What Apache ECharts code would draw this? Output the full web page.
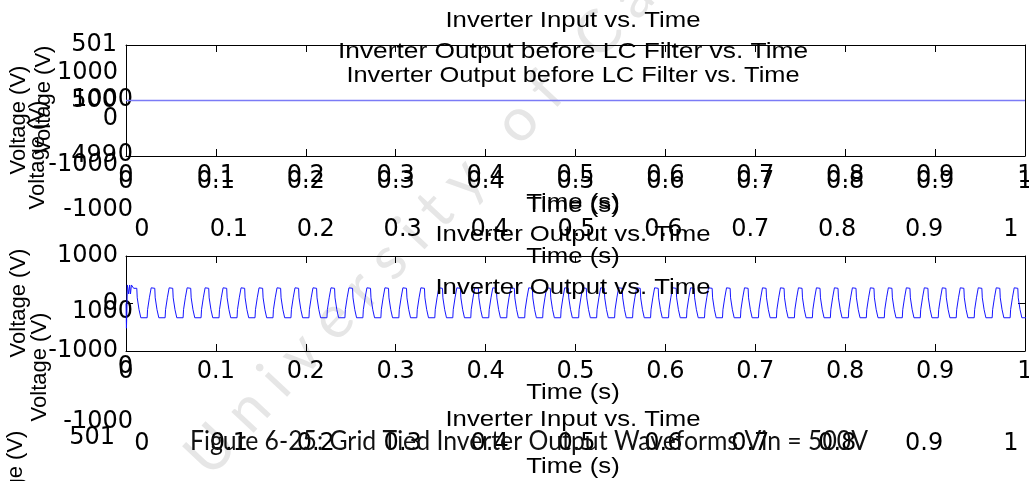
<!DOCTYPE html>
<html>
<head>
<meta charset="utf-8">
<script src="https://cdn.jsdelivr.net/npm/echarts@6/dist/echarts.min.js"></script>
<style>
  html, body { margin: 0; padding: 0; background: #fff; }
  #chart { width: 1029px; height: 481px; }
</style>
</head>
<body>
<div id="chart"></div>
<script>
// Tick labels
const timeTicks = ['0', '0.1', '0.2', '0.3', '0.4', '0.5', '0.6', '0.7', '0.8', '0.9', '1'];
const inputTicks = ['499', '500', '501'];
const outputTicks = ['-1000', '0', '1000'];

// Inverter input: DC link held at 500 V over the whole run
const inputT = [0, 1];
const inputV = [500, 500];

// Inverter output: start-up transient (s, V)
const startupT = [0, 0.0005, 0.001, 0.0015, 0.0025, 0.003, 0.004, 0.005, 0.006, 0.0075, 0.0085, 0.012];
const startupV = [0, -520, -150, 390, 390, 200, 390, 200, 390, 390, 320, 320];

// One stepped 50 Hz output cycle (offset s, V), repeated after the transient
const cycleT = [0, 0.0005, 0.002, 0.0025, 0.004, 0.0045, 0.0115, 0.012, 0.0135, 0.014, 0.0155, 0.016, 0.0165, 0.017];
const cycleV = [320, 120, 120, -130, -130, -300, -300, -130, -130, 120, 120, 330, 370, 320];
const cycleStart = 0.012;
const cyclePeriod = 0.02;
const cycleCount = 50;

// Texts
const titleInput = 'Inverter Input vs. Time';
const titleBeforeLC = 'Inverter Output before LC Filter vs. Time';
const titleOutput = 'Inverter Output vs. Time';
const xName = 'Time (s)';
const yName = 'Voltage (V)';
const caption = 'Figure 6-25: Grid Tied Inverter Output Waveforms Vin = 500V';
const watermarkWords = ['University', 'of', 'Cape', 'Town'];

const FIG_FONT = 'DejaVu Sans';
const TXT_FONT = 'Liberation Sans';

function outputWave() {
  const pts = startupT.map((t, i) => [t, startupV[i]]);
  for (let k = 0; k < cycleCount; k++) {
    const t0 = cycleStart + k * cyclePeriod;
    cycleT.forEach((dt, i) => pts.push([t0 + dt, cycleV[i]]));
  }
  return pts;
}

// spaced-out lettering for the watermark
function spaced(words) {
  return words.map(w => w.split('').join(' ')).join('   ');
}

const measureCtx = document.createElement('canvas').getContext('2d');
function textWidth(text, size, family) {
  measureCtx.font = size + 'px "' + family + '"';
  return measureCtx.measureText(text).width;
}

function txt(text, x, y, o = {}) {
  return {
    type: 'text', x: x, y: y, silent: true,
    rotation: o.rotation || 0,
    scaleX: o.scaleX || 1,
    z: o.z != null ? o.z : 10,
    style: {
      text: text,
      fontFamily: o.font || TXT_FONT,
      fontSize: o.size || 22,
      fill: o.fill || '#000',
      align: o.align || 'center',
      verticalAlign: o.va || 'middle'
    }
  };
}

const tickFmt = v => timeTicks[Math.round(v * 10)];
const outFmt = v => outputTicks[Math.round(v / 1000) + 1];
const inFmt = v => inputTicks[Math.round(v - 499)];

const labelStyle = (margin, fmt) => ({
  show: true, margin: margin, formatter: fmt,
  fontFamily: FIG_FONT, fontSize: 24, color: '#000'
});
// value labels on the vertical axes sit a little lower than the tick
const yLabelStyle = (margin, fmt) => Object.assign(labelStyle(margin, fmt), { padding: [6, 0, 0, 0] });

const blackLine = { show: true, onZero: false, lineStyle: { color: '#000', width: 1 } };
const innerTick = { show: true, inside: true, length: 7, lineStyle: { color: '#000', width: 1 } };
const noLine = { show: false, onZero: false };
const noTick = { show: false };
const noSplit = { show: false };

function timeAxis(grid, pos, line, tick, label) {
  return {
    type: 'value', gridIndex: grid, position: pos, min: 0, max: 1, interval: 0.1,
    axisLine: line, axisTick: tick, splitLine: noSplit,
    axisLabel: label || { show: false }
  };
}
function voltAxis(grid, pos, min, max, interval, line, tick, label) {
  return {
    type: 'value', gridIndex: grid, position: pos, min: min, max: max, interval: interval,
    axisLine: line, axisTick: tick, splitLine: noSplit,
    axisLabel: label || { show: false }
  };
}
function box(left, top, width, height) {
  return { left: left, top: top, width: width, height: height, containLabel: false, outerBoundsMode: 'none' };
}

const scaleWide = 1.17;

const option = {
  animation: false,
  backgroundColor: '#fff',
  grid: [
    box(126, 45, 899, 111),   // 0 input (drawn)
    box(126, 73, 899, 92),    // 1 before LC filter
    box(142, 100, 869, 110),  // 2 before LC filter
    box(126, 256, 899, 95),   // 3 output (drawn)
    box(142, 312, 869, 110),  // 4 output
    box(126, 438, 899, 111)   // 5 input
  ],
  xAxis: [
    timeAxis(0, 'bottom', blackLine, innerTick, labelStyle(8, tickFmt)),
    timeAxis(0, 'top', blackLine, innerTick),
    timeAxis(1, 'bottom', noLine, noTick, labelStyle(5, tickFmt)),
    timeAxis(2, 'bottom', noLine, noTick, labelStyle(8, tickFmt)),
    timeAxis(3, 'bottom', blackLine, innerTick, labelStyle(9, tickFmt)),
    timeAxis(3, 'top', blackLine, innerTick),
    timeAxis(4, 'bottom', noLine, noTick, labelStyle(10, tickFmt)),
    Object.assign(timeAxis(5, 'bottom', noLine, noTick), { show: false })
  ],
  yAxis: [
    voltAxis(0, 'left', 499, 501, 1, blackLine, innerTick, yLabelStyle(9, inFmt)),
    voltAxis(0, 'right', 499, 501, 1, blackLine, innerTick),
    voltAxis(1, 'left', -1000, 1000, 1000, noLine, noTick, yLabelStyle(8, outFmt)),
    voltAxis(2, 'left', -1000, 1000, 1000, noLine, noTick, yLabelStyle(9, outFmt)),
    voltAxis(3, 'left', -1000, 1000, 1000, blackLine, innerTick, yLabelStyle(8, outFmt)),
    voltAxis(3, 'right', -1000, 1000, 1000, blackLine, innerTick),
    voltAxis(4, 'left', -1000, 1000, 1000, noLine, noTick, yLabelStyle(9, outFmt)),
    voltAxis(5, 'left', 499, 501, 1, noLine, noTick, yLabelStyle(11, inFmt))
  ],
  series: [
    {
      name: 'Inverter Input', type: 'line', xAxisIndex: 0, yAxisIndex: 0,
      data: inputT.map((t, i) => [t, inputV[i]]),
      showSymbol: false, lineStyle: { color: '#7b7bf6', width: 1.4 }, z: 3
    },
    {
      name: 'Inverter Output', type: 'line', xAxisIndex: 4, yAxisIndex: 4,
      data: outputWave(),
      showSymbol: false, lineStyle: { color: '#1515ff', width: 1 }, z: 3
    }
  ],
  graphic: { elements: [] }
};

const g = option.graphic.elements;
// faint watermark behind everything
g.push(txt(spaced(watermarkWords), 196, 466, {
  font: 'Lato', size: 60, fill: '#e6e6e6', align: 'left', rotation: 47 * Math.PI / 180, z: -10
}));

// titles
g.push(txt(titleInput, 573, 21, { scaleX: scaleWide }));
g.push(txt(titleBeforeLC, 573, 52, { size: 22.5, scaleX: scaleWide }));
g.push(txt(titleBeforeLC, 573, 76, { size: 21.7, scaleX: scaleWide }));
g.push(txt(titleOutput, 573, 235, { scaleX: scaleWide }));
g.push(txt(titleOutput, 573, 288, { scaleX: scaleWide }));
g.push(txt(titleInput, 573, 420, { scaleX: scaleWide }));

// x-axis names
g.push(txt(xName, 573, 203, { scaleX: scaleWide }));
g.push(txt(xName, 573, 206, { scaleX: scaleWide }));
g.push(txt(xName, 573, 257, { scaleX: scaleWide }));
g.push(txt(xName, 573, 393, { scaleX: scaleWide }));
g.push(txt(xName, 573, 467, { scaleX: scaleWide }));

// y-axis names
const rot = Math.PI / 2;
g.push(txt(yName, 44, 100, { rotation: rot }));
g.push(txt(yName, 19, 120, { rotation: rot }));
g.push(txt(yName, 38, 155, { rotation: rot }));
g.push(txt(yName, 19, 303, { rotation: rot }));
g.push(txt(yName, 40, 367, { rotation: rot }));
g.push(txt(yName, 16, 485, { rotation: rot }));

// caption
const capSize = 27;
g.push(txt(caption, 190, 441, {
  font: 'Lato', size: capSize, fill: '#111', align: 'left', z: 20,
  scaleX: 678 / textWidth(caption, capSize, 'Lato')
}));

const chart = echarts.init(document.getElementById('chart'), null, { renderer: 'canvas' });
chart.setOption(option);
</script>
</body>
</html>
